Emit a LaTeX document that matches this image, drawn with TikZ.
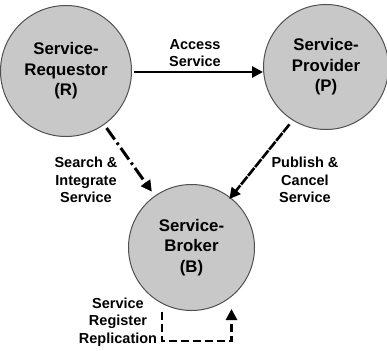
\documentclass[tikz,border=0pt]{standalone}
\usepackage{fontspec}
\setmainfont{Liberation Sans}
\usetikzlibrary{arrows.meta}
\definecolor{nodefill}{HTML}{C8C8C8}
\definecolor{nodeline}{HTML}{505050}
\begin{document}
\begin{tikzpicture}[x=1pt,y=-1pt,
  circ/.style={circle, draw=nodeline, line width=1pt, fill=nodefill,
    minimum size=#1, inner sep=0pt, align=center,
    font=\fontsize{16.8}{20.5}\selectfont\bfseries},
  lbl/.style={align=center, inner sep=0pt,
    font=\fontsize{14.5}{17.5}\selectfont\bfseries},
  tip/.style={-{Triangle[length=11pt,width=11pt]}},
  conn/.style={line width=2.5pt, tip},
]
\useasboundingbox (0,0) rectangle (387,350);
\node[circ=131pt] (R) at (66,71) {Service-\\Requestor\\(R)};
\node[circ=125pt] (P) at (326,67) {Service-\\Provider\\(P)};
\node[circ=126pt] (B) at (191.5,247.5) {Service-\\Broker\\(B)};

\node[lbl] (acc) at (195,53) {Access\\Service};
\node[lbl] (sis) at (86,180) {Search \&\\Integrate\\Service};
\node[lbl] (pcs) at (305,180) {Publish \&\\Cancel\\Service};
\node[lbl] (srr) at (118,322) {Service\\Register\\Replication};

\draw[conn, line width=2.8pt] ([xshift=2pt,yshift=-1pt]R.east) -- ([yshift=-1pt]P.west |- R.east);
\draw[conn, line width=3pt, dash pattern=on 14pt off 4pt on 2.5pt off 4pt,
  shorten <=4pt, shorten >=5pt] (R) -- (B);
\draw[conn, line width=2.6pt, dash pattern=on 10pt off 1.2pt,
  shorten <=5pt, shorten >=-2pt] (P.-122) -- (B.52);
\coordinate (loopb) at (197,341);
\draw[conn, line width=2.6pt, dash pattern=on 8pt off 4pt]
  ([xshift=-29.5pt,yshift=-0.5pt]B.south) |- (loopb) -| ([xshift=40pt,yshift=2pt]B.south);
\end{tikzpicture}
\end{document}
